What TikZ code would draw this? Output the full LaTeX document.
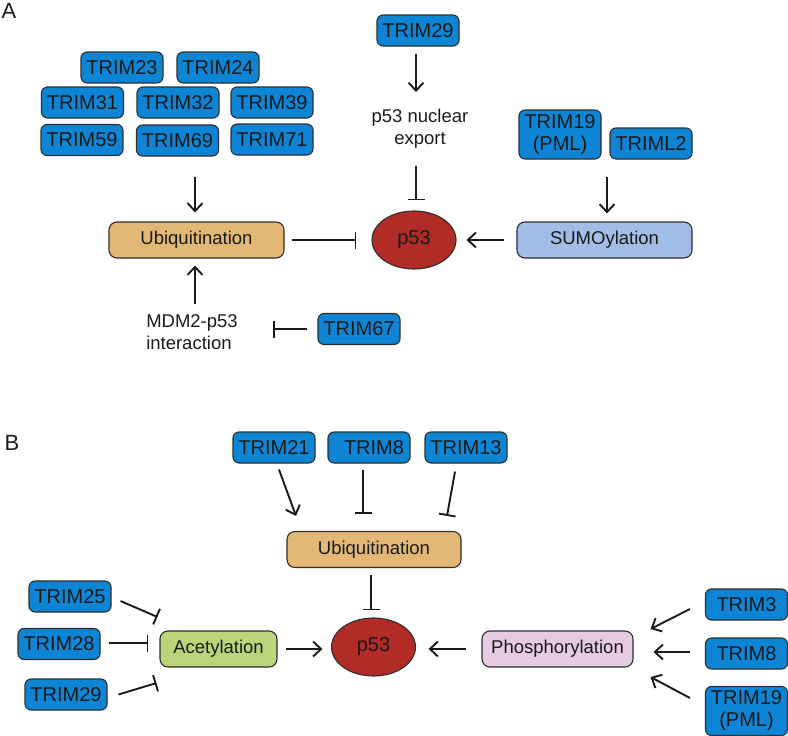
\documentclass[tikz,border=0pt]{standalone}
\usepackage{fontspec}
\setmainfont{Liberation Sans}
\usetikzlibrary{arrows.meta,shapes.geometric}
\definecolor{trimblue}{HTML}{0E84D4}
\definecolor{ubq}{HTML}{E3B877}
\definecolor{sumoc}{HTML}{A3BEE6}
\definecolor{p53red}{HTML}{B12B27}
\definecolor{acetc}{HTML}{BCD47A}
\definecolor{phosc}{HTML}{E6CCE2}
\definecolor{ink}{HTML}{1A1A1A}
\definecolor{edge}{HTML}{2E2E2E}
\tikzset{
  trim/.style={draw=edge, line width=1.1pt, fill=trimblue, rounded corners=6pt,
    minimum width=82pt, minimum height=31pt, inner sep=0pt, text=ink,
    font=\fontsize{20}{22}\selectfont, align=center},
  trimtall/.style={trim, minimum height=49pt},
  proc/.style={draw=edge, line width=1.1pt, rounded corners=8pt,
    minimum height=36pt, inner sep=0pt, text=ink,
    font=\fontsize{18.5}{22}\selectfont},
  pfs/.style={ellipse, draw=edge, line width=1.1pt, fill=p53red, text=ink,
    minimum width=84pt, minimum height=58pt, inner sep=0pt,
    font=\fontsize{20}{22}\selectfont},
  lbl/.style={text=ink, font=\fontsize{18.5}{22}\selectfont, inner sep=0pt},
  panel/.style={text=ink, font=\fontsize{22}{24}\selectfont, inner sep=0pt},
  arr/.style={line width=1.9pt, draw=ink, -{Straight Barb[length=8pt,width=15pt,line width=1.9pt]}},
  inh/.style={line width=1.9pt, draw=ink, -{Bar[width=17pt,line width=1.9pt]}}
}
\begin{document}
\begin{tikzpicture}[x=1pt,y=-1pt]
\useasboundingbox (0,0) rectangle (788,736);
% ---------- Panel A ----------
\node[panel] (pa) at (9,11) {A};
\node[trim] (t23) at (122,67.5) {TRIM23};
\node[trim] (t24) at (218,67.5) {TRIM24};
\node[trim] (t31) at (82.5,102.5) {TRIM31};
\node[trim] (t32) at (178,102.5) {TRIM32};
\node[trim] (t39) at (272,102.5) {TRIM39};
\node[trim] (t59) at (82,140) {TRIM59};
\node[trim] (t69) at (177.5,140.5) {TRIM69};
\node[trim] (t71) at (272,139.5) {TRIM71};
\node[proc, fill=ubq, minimum width=175pt] (ubA) at (196.5,240) {Ubiquitination};
\node[pfs] (p53A) at (414,240) {p53};
\node[proc, fill=sumoc, minimum width=175pt] (sumo) at (604.5,240) {SUMOylation};
\node[trim] (t29A) at (418,30.5) {TRIM29};
\node[lbl, align=center] (exp) at (420,129) {p53 nuclear\\export};
\node[trimtall] (t19A) at (560,134.5) {TRIM19\\(PML)};
\node[trim] (tl2) at (651,143.5) {TRIML2};
\node[lbl, align=left] (mdm) at (192,332) {MDM2-p53\\interaction};
\node[trim] (t67) at (359,329) {TRIM67};

\draw[arr] ([shift={(17.5,20)}]t69.south) -- ([shift={(-1.5,-9)}]ubA.north);
\draw[arr] ([shift={(3,-28)}]mdm.center) -- ([shift={(-1.5,7)}]ubA.south);
\draw[inh] ([shift={(-10,0)}]t67.west) -- ([shift={(81,-3)}]mdm.center);
\draw[inh] ([shift={(7,0)}]ubA.east) -- ([shift={(-15,0)}]p53A.west);
\draw[arr] ([shift={(-2,7)}]t29A.south) -- ([shift={(-4,-37)}]exp.center);
\draw[inh] ([shift={(-4,37)}]exp.center) -- ([shift={(2,-10)}]p53A.north);
\draw[arr] ([shift={(-44,17)}]tl2.south) -- ([shift={(2.5,-8)}]sumo.north);
\draw[arr] ([shift={(-12,0)}]sumo.west) -- ([shift={(10,0)}]p53A.east);

% ---------- Panel B ----------
\node[panel] (pb) at (12,443) {B};
\node[trim] (t21) at (274,447.5) {TRIM21};
\node[trim] (t8B) at (369,447.5) {\hspace*{10pt}TRIM8};
\node[trim] (t13) at (466,447.5) {TRIM13};
\node[proc, fill=ubq, minimum width=174pt] (ubB) at (374,549.5) {Ubiquitination};
\node[pfs] (p53B) at (373.5,647) {p53};
\node[proc, fill=acetc, minimum width=117pt] (acet) at (218.5,649) {Acetylation};
\node[proc, fill=phosc, minimum width=151pt] (phos) at (557.5,649) {Phosphorylation};
\node[trim] (t25) at (70,596.5) {TRIM25};
\node[trim] (t28) at (59,644) {TRIM28};
\node[trim] (t29B) at (66,694.5) {TRIM29};
\node[trim] (t3) at (746.5,604.5) {TRIM3};
\node[trim] (t8R) at (746.5,653.5) {TRIM8};
\node[trimtall] (t19R) at (746.5,711) {TRIM19\\(PML)};

\draw[arr] ([shift={(5,6)}]t21.south) -- ([shift={(-78,-15)}]ubB.north);
\draw[inh] ([shift={(-6,6)}]t8B.south) -- ([shift={(-11,-17)}]ubB.north);
\draw[inh] ([shift={(-11,8)}]t13.south) -- ([shift={(73,-15)}]ubB.north);
\draw[inh] ([shift={(-3,7)}]ubB.south) -- ([shift={(-2.5,-7)}]p53B.north);
\draw[arr] ([shift={(8,0)}]acet.east) -- ([shift={(-8.5,2)}]p53B.west);
\draw[arr] ([shift={(-15,0)}]phos.west) -- ([shift={(12.5,2)}]p53B.east);
\draw[inh] ([shift={(9,4.5)}]t25.east) -- ([shift={(-2,-32)}]acet.west);
\draw[inh] ([shift={(8,-1)}]t28.east) -- ([shift={(-11,-6)}]acet.west);
\draw[inh] ([shift={(11,0)}]t29B.east) -- ([shift={(-3,34)}]acet.west);
\draw[arr] ([shift={(-15,4.5)}]t3.west) -- ([shift={(17,-20)}]phos.east);
\draw[arr] ([shift={(-15,-1.5)}]t8R.west) -- ([shift={(20,3)}]phos.east);
\draw[arr] ([shift={(-15,-13)}]t19R.west) -- ([shift={(17,28)}]phos.east);
\end{tikzpicture}
\end{document}
